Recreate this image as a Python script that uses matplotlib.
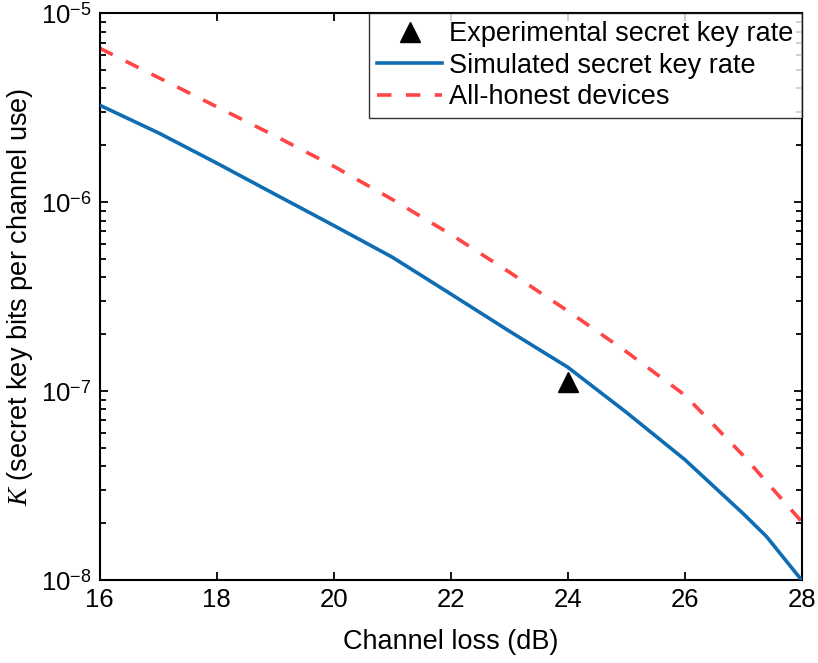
import matplotlib
matplotlib.use("Agg")
import matplotlib.pyplot as plt
from matplotlib.ticker import LogLocator, FixedLocator, NullFormatter

plt.rcParams['font.family'] = ['Liberation Sans', 'DejaVu Sans']
plt.rcParams['mathtext.fontset'] = 'custom'
plt.rcParams['mathtext.rm'] = 'Liberation Sans'
plt.rcParams['mathtext.it'] = 'Liberation Serif:italic'

# Channel loss (dB)
loss_sim = [16, 17, 18, 19, 20, 21, 22, 23, 24, 25, 26, 27, 27.4, 28]
rate_sim = [3.26e-6, 2.33e-6, 1.61e-6, 1.10e-6, 7.53e-7, 5.12e-7, 3.27e-7,
            2.08e-7, 1.34e-7, 7.74e-8, 4.35e-8, 2.25e-8, 1.70e-8, 1.0e-8]

loss_honest = [16, 17, 18, 19, 20, 21, 22, 23, 24, 25, 26, 27, 28]
rate_honest = [6.53e-6, 4.57e-6, 3.20e-6, 2.24e-6, 1.55e-6, 1.035e-6, 6.76e-7,
               4.27e-7, 2.66e-7, 1.62e-7, 9.55e-8, 4.57e-8, 2.04e-8]

loss_exp = [24]
rate_exp = [1.12e-7]

fig = plt.figure(figsize=(8.18, 6.63), dpi=100)
ax = fig.add_axes([0.122, 0.125, 0.858, 0.855])

ax.plot(loss_exp, rate_exp, linestyle='none', marker='^', color='black',
        markersize=14, label='Experimental secret key rate', zorder=4)
ax.plot(loss_sim, rate_sim, color='#0f6db3', lw=2.6,
        label='Simulated secret key rate', zorder=3)
ax.plot(loss_honest, rate_honest, color='#ff4545', lw=2.6, dashes=(4, 4),
        label='All-honest devices', zorder=2)

ax.set_yscale('log')
ax.set_xlim(16, 28)
ax.set_ylim(1e-8, 1e-5)

ax.xaxis.set_major_locator(FixedLocator([16, 18, 20, 22, 24, 26, 28]))
ax.yaxis.set_major_locator(FixedLocator([1e-8, 1e-7, 1e-6, 1e-5]))
ax.set_yticklabels(['$10^{-8}$', '$10^{-7}$', '$10^{-6}$', '$10^{-5}$'])
ax.yaxis.set_minor_locator(LogLocator(base=10, subs=range(2, 10)))
ax.yaxis.set_minor_formatter(NullFormatter())

ax.tick_params(which='both', direction='in', top=True, right=True,
               labelsize=18.5, width=1.3)
ax.tick_params(which='major', length=6, pad=6)
ax.tick_params(which='minor', length=4)
for s in ax.spines.values():
    s.set_linewidth(1.5)

ax.set_xlabel('Channel loss (dB)', fontsize=19.5, labelpad=12)
ax.set_ylabel('$K$ (secret key bits per channel use)', fontsize=19.5, labelpad=4)

leg = ax.legend(loc='upper right', fontsize=19.5, frameon=True, fancybox=False,
                edgecolor='black', borderaxespad=0, handlelength=2.4,
                handletextpad=0.25, labelspacing=0.2, borderpad=0.3)
leg.get_frame().set_linewidth(1.0)

fig.savefig('out.png', dpi=100)
